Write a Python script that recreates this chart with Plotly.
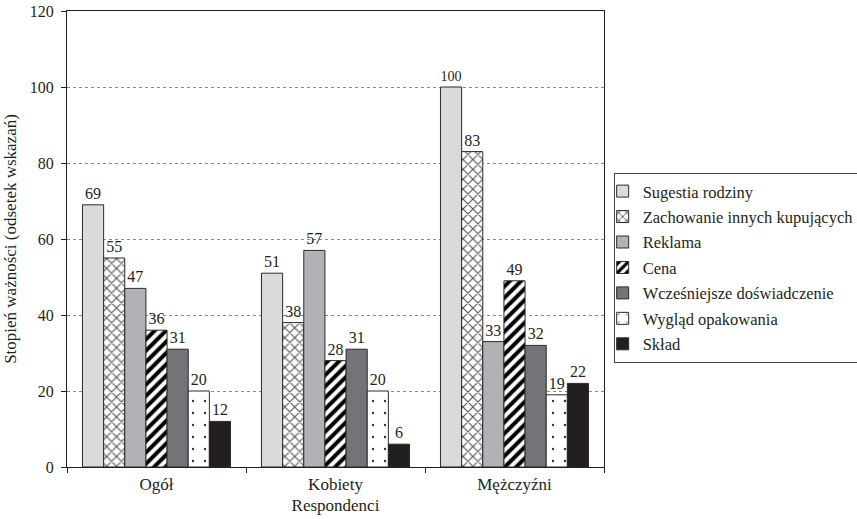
import plotly.graph_objects as go

# Respondent groups on the x axis
categories = ["Ogół", "Kobiety", "Mężczyźni"]

# Share of indications per factor (%)
sugestia_rodziny = [69, 51, 100]
zachowanie_innych = [55, 38, 83]
reklama = [47, 57, 33]
cena = [36, 28, 49]
wczesniejsze_dosw = [31, 31, 32]
wyglad_opakowania = [20, 20, 19]
sklad = [12, 6, 22]

y_ticks = [0, 20, 40, 60, 80, 100, 120]

series = [
    ("Sugestia rodziny", sugestia_rodziny, dict(color="#d9dadc")),
    ("Zachowanie innych kupujących", zachowanie_innych,
     dict(color="#ffffff", pattern=dict(shape="x", fgcolor="#555555", bgcolor="#ffffff",
                                        fgopacity=1, size=7, solidity=0.3))),
    ("Reklama", reklama, dict(color="#b1b2b5")),
    ("Cena", cena,
     dict(color="#ffffff", pattern=dict(shape="/", fgcolor="#000000", bgcolor="#ffffff",
                                        fgopacity=1, size=8, solidity=0.5))),
    ("Wcześniejsze doświadczenie", wczesniejsze_dosw, dict(color="#737477")),
    ("Wygląd opakowania", wyglad_opakowania,
     dict(color="#ffffff", pattern=dict(shape=".", fgcolor="#333333", bgcolor="#ffffff",
                                        fgopacity=1, size=12, solidity=0.03))),
    ("Skład", sklad, dict(color="#231f20")),
]

FONT = "Liberation Serif"

fig = go.Figure()
for i, (name, vals, marker) in enumerate(series):
    marker = dict(marker)
    marker["line"] = dict(color="#2b2b2b", width=1)
    fig.add_trace(go.Bar(
        name=name,
        x=categories,
        y=vals,
        marker=marker,
        text=[str(v) for v in vals],
        textposition="outside",
        textfont=dict(family=FONT, size=16, color="#231f20"),
        cliponaxis=False,
        legendgroup=f"g{i}",
    ))

fig.update_layout(
    width=857,
    height=519,
    margin=dict(l=67, r=253, t=11, b=52, autoexpand=False),
    paper_bgcolor="white",
    plot_bgcolor="white",
    barmode="group",
    bargap=0.173,
    bargroupgap=0,
    font=dict(family=FONT, size=16, color="#231f20"),
    legend=dict(
        x=1.018, y=0.645, xanchor="left", yanchor="top",
        bordercolor="#444444", borderwidth=1,
        font=dict(family=FONT, size=16.5, color="#231f20"),
        traceorder="grouped",
        tracegroupgap=1,
        itemwidth=30,
        indentation=-12,
        bgcolor="white",
    ),
    showlegend=True,
)

fig.update_yaxes(
    range=[0, 120],
    tickvals=y_ticks,
    ticks="outside", ticklen=5, tickcolor="#231f20",
    showline=True, linecolor="#231f20", linewidth=1, mirror=True,
    showgrid=True, gridcolor="#8a8a8a", griddash="dot", gridwidth=1,
    zeroline=False,
    tickfont=dict(family=FONT, size=16),
    ticklabelstandoff=4,
    title=dict(text="Stopień ważności (odsetek wskazań)", font=dict(family=FONT, size=17), standoff=8),
)

fig.update_xaxes(
    ticks="outside", ticklen=5, tickcolor="#231f20", tickson="boundaries",
    showline=True, linecolor="#231f20", linewidth=1, mirror=True,
    tickfont=dict(family=FONT, size=17),
    ticklabelstandoff=2,
    title=dict(text="Respondenci", font=dict(family=FONT, size=17), standoff=5),
)

fig.write_html("out.html")
